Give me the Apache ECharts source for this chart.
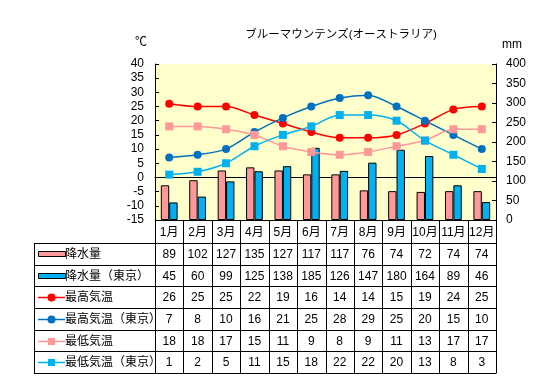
<!DOCTYPE html>
<html><head><meta charset="utf-8">
<script src="https://cdn.jsdelivr.net/npm/echarts@6/dist/echarts.min.js"></script>
<style>html,body{margin:0;padding:0;background:#fff}#c{width:560px;height:380px}</style>
</head><body><div id="c"></div>
<script>
var months = ['1月','2月','3月','4月','5月','6月','7月','8月','9月','10月','11月','12月'];
var rain = [89,102,127,135,127,117,117,76,74,72,74,74];
var rainTokyo = [45,60,99,125,138,185,126,147,180,164,89,46];
var high = [26,25,25,22,19,16,14,14,15,19,24,25];
var highTokyo = [7,8,10,16,21,25,28,29,25,20,15,10];
var low = [18,18,17,15,11,9,8,9,11,13,17,17];
var lowTokyo = [1,2,5,11,15,18,22,22,20,13,8,3];
var tempTicks = [-15,40,5];
var rainTicks = [0,400,50];

var FONT = '"Liberation Sans","Noto Sans CJK JP",sans-serif';
var L = 155, R = 496, T = 64, B = 220;
var TL = 34, monthBottom = 243, rowH = (373 - 243) / 6;
var cw = (R - L) / 12;

var rows = [
  {name:'降水量', data:rain, color:'#FF9999', type:'bar'},
  {name:'降水量（東京）', data:rainTokyo, color:'#00B0F0', type:'bar'},
  {name:'最高気温', data:high, color:'#FF0000', type:'line', symbol:'circle'},
  {name:'最高気温（東京）', data:highTokyo, color:'#0070C0', type:'line', symbol:'circle'},
  {name:'最低気温', data:low, color:'#FF9999', type:'line', symbol:'rect'},
  {name:'最低気温（東京）', data:lowTokyo, color:'#00B0F0', type:'line', symbol:'rect'}
];

var graphics = [];
function line(x1,y1,x2,y2){graphics.push({type:'line',silent:true,shape:{x1:x1,y1:y1,x2:x2,y2:y2},style:{stroke:'#000',lineWidth:1}});}
function text(x,y,t,align,size){graphics.push({type:'text',silent:true,x:x,y:y,style:{text:t,fill:'#000',font:(size||12)+'px '+FONT,textAlign:align||'center',textVerticalAlign:'middle'}});}

// table grid lines
line(L,B+0.5,R,B+0.5);
line(TL,monthBottom+0.5,R,monthBottom+0.5);
for (var r=1;r<=6;r++){var y=Math.round(monthBottom+r*rowH)+0.5; line(TL,y,R,y);}
line(TL+0.5,monthBottom,TL+0.5,373.5);
for (var i=0;i<=12;i++){var x=Math.round(L+i*cw)+0.5; line(x,B,x,373.5);}
// month labels
months.forEach(function(m,i){text(L+(i+0.5)*cw,(B+monthBottom)/2+1,m);});
// rows
rows.forEach(function(row,r){
  var yc = monthBottom + (r+0.5)*rowH + 1;
  row.data.forEach(function(v,i){text(L+(i+0.5)*cw,yc,String(v));});
  var ix1 = 38, ix2 = 65;
  if (row.type==='bar'){
    graphics.push({type:'rect',silent:true,shape:{x:ix1+0.5,y:Math.round(yc-4)+0.5,width:ix2-ix1,height:5},style:{fill:row.color,stroke:'#000',lineWidth:1}});
  } else {
    graphics.push({type:'line',silent:true,shape:{x1:ix1,y1:Math.round(yc)-0.5,x2:ix2,y2:Math.round(yc)-0.5},style:{stroke:row.color,lineWidth:1.5}});
    if (row.symbol==='circle') graphics.push({type:'circle',silent:true,shape:{cx:(ix1+ix2)/2,cy:Math.round(yc)-0.5,r:4},style:{fill:row.color}});
    else graphics.push({type:'rect',silent:true,shape:{x:(ix1+ix2)/2-3.5,y:Math.round(yc)-4,width:7,height:7},style:{fill:row.color}});
  }
  text(65,yc,row.name,'left');
});
// axis unit labels and title
text(341,35,'ブルーマウンテンズ(オーストラリア)','center',11.5);
text(141,43,'℃');
text(512,45,'mm');

var series = rows.map(function(row){
  if (row.type==='bar') return {
    name: row.name, type:'bar', yAxisIndex:1, data: row.data,
    barGap:'0%', barCategoryGap:'41%',
    itemStyle:{color:row.color,borderColor:'#000',borderWidth:1}
  };
  return {
    name: row.name, type:'line', yAxisIndex:0, data: row.data, smooth:0.3,
    symbol: row.symbol, symbolSize: 8,
    lineStyle:{color:row.color,width:1.5}, itemStyle:{color:row.color}
  };
});

var chart = echarts.init(document.getElementById('c'), null, {renderer:'canvas'});
chart.setOption({
  animation:false,
  backgroundColor:'#fff',
  grid:{left:L,right:560-R,top:T,bottom:380-B,show:true,backgroundColor:'#FFFFCC',borderWidth:0},
  xAxis:{type:'category',data:months,
    axisLine:{show:true,onZero:true,onZeroAxisIndex:0,lineStyle:{color:'#000',width:1}},
    axisTick:{show:false},axisLabel:{show:false},splitLine:{show:false}},
  yAxis:[
    {type:'value',min:tempTicks[0],max:tempTicks[1],interval:tempTicks[2],position:'left',
      axisLine:{show:true,onZero:false,lineStyle:{color:'#000'}},
      axisTick:{show:true,inside:true,length:4,lineStyle:{color:'#000'}},
      axisLabel:{color:'#000',fontSize:12,fontFamily:FONT,margin:11},splitLine:{show:false}},
    {type:'value',min:rainTicks[0],max:rainTicks[1],interval:rainTicks[2],position:'right',
      axisLine:{show:true,onZero:false,lineStyle:{color:'#000'}},
      axisTick:{show:true,inside:true,length:4,lineStyle:{color:'#000'}},
      axisLabel:{color:'#000',fontSize:12,fontFamily:FONT,margin:10},splitLine:{show:false}}
  ],
  series:series,
  graphic:graphics
});
</script></body></html>
